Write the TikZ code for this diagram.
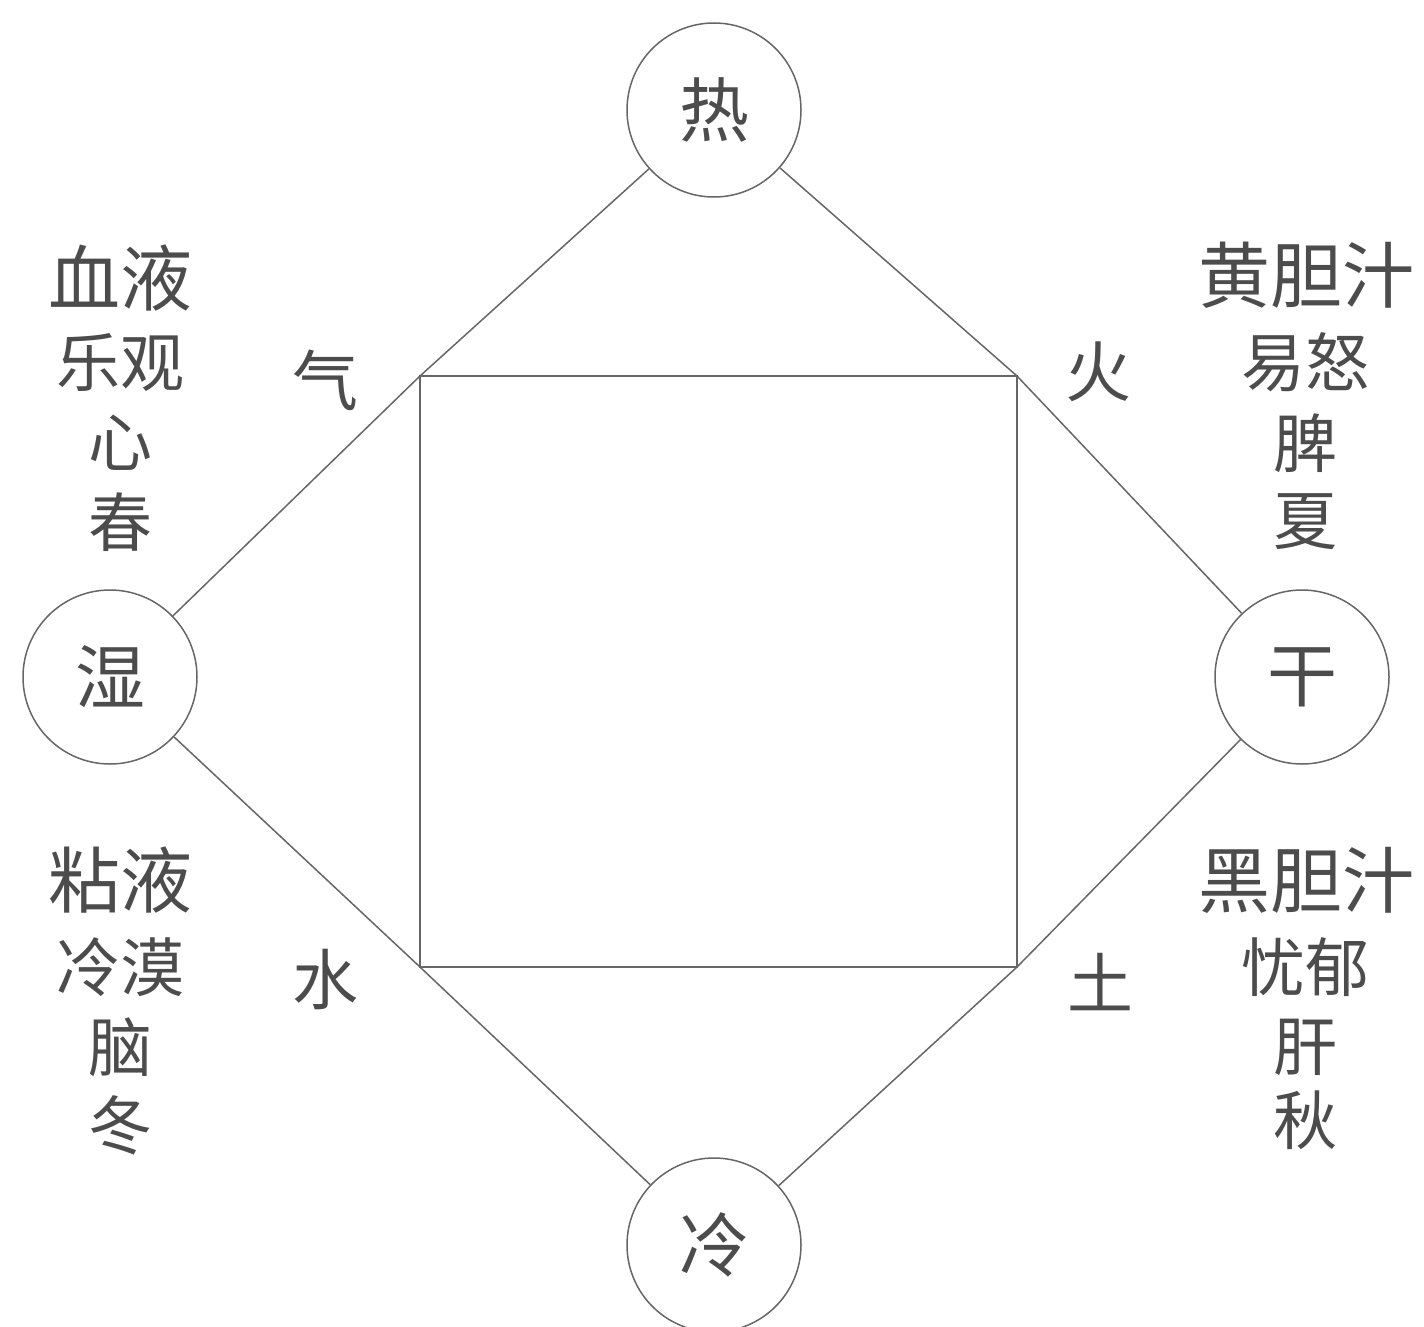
\documentclass[tikz,border=0pt]{standalone}
\usepackage{fontspec}
\newfontfamily\cjk{Noto Sans CJK SC}
\begin{document}
\begin{tikzpicture}[x=1pt,y=-1pt,
  ln/.style={draw=black!60,line width=1.5pt},
  circ/.style={circle,draw=black!60,line width=1.5pt,minimum size=174pt,inner sep=0pt,text=black!70,font=\cjk\fontsize{70}{70}\selectfont},
  big/.style={inner sep=0pt,text=black!70,font=\cjk\fontsize{72}{72}\selectfont},
  sml/.style={inner sep=0pt,text=black!70,font=\cjk\fontsize{64}{64}\selectfont},
  elem/.style={inner sep=0pt,text=black!70,font=\cjk\fontsize{66}{66}\selectfont}]
\useasboundingbox (0,0) rectangle (1424,1327);
\node[circ] (top) at (714,110) {热};
\node[circ] (left) at (110,677) {湿};
\node[circ] (right) at (1302,677) {干};
\node[circ] (bot) at (714,1245) {冷};
\coordinate (c1) at (420,376);
\coordinate (c2) at (1017,376);
\coordinate (c3) at (1017,967);
\coordinate (c4) at (420,967);
\draw[ln] (c1) -- (c2) -- (c3) -- (c4) -- cycle;
\draw[ln] (top) -- (c1) -- (left);
\draw[ln] (top) -- (c2) -- (right);
\draw[ln] (left) -- (c4) -- (bot);
\draw[ln] (right) -- (c3) -- (bot);
\node[elem] (qi) at (325,380) {气};
\node[elem] (huo) at (1098,372) {火};
\node[elem] (shui) at (325,980) {水};
\node[elem] (tu) at (1100,982) {土};
% upper left
\node[big] (l1) at (120,278) {血液};
\node[sml] (l2) at (120,362) {乐观};
\node[sml] (l3) at (120,443) {心};
\node[sml] (l4) at (120,522) {春};
% upper right
\node[big] (r1) at (1306,275) {黄胆汁};
\node[sml] (r2) at (1305,362) {易怒};
\node[sml] (r3) at (1305,443) {脾};
\node[sml] (r4) at (1305,522) {夏};
% lower left
\node[big] (l5) at (120,880) {粘液};
\node[sml] (l6) at (120,967) {冷漠};
\node[sml] (l7) at (120,1047) {脑};
\node[sml] (l8) at (120,1125) {冬};
% lower right
\node[big] (r5) at (1306,880) {黑胆汁};
\node[sml] (r6) at (1305,967) {忧郁};
\node[sml] (r7) at (1305,1047) {肝};
\node[sml] (r8) at (1305,1120) {秋};
\end{tikzpicture}
\end{document}
